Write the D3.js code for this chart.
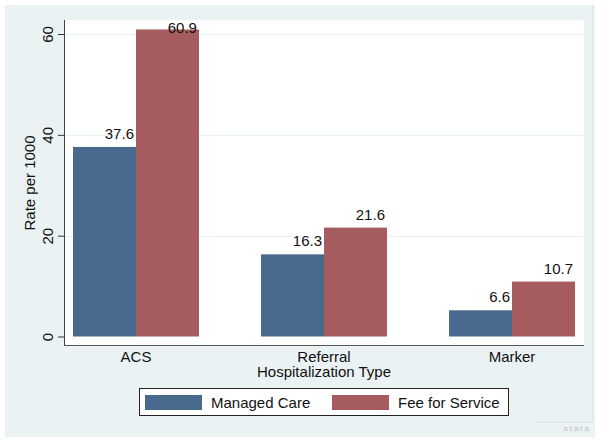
<!DOCTYPE html>
<html><head><meta charset="utf-8">
<script src="https://cdn.jsdelivr.net/npm/d3@7"></script>
<style>body{margin:0;background:#fff}svg{display:block}text{font-family:"Liberation Sans",Arial,sans-serif}</style>
</head><body>
<script>
const categories = ["ACS", "Referral", "Marker"];
const seriesNames = ["Managed Care", "Fee for Service"];
const managedCare = [37.6, 16.3, 5.2];
const feeForService = [60.9, 21.6, 10.9];
const managedCareLabels = ["37.6", "16.3", "6.6"];
const feeForServiceLabels = ["60.9", "21.6", "10.7"];
const yTicks = [0, 20, 40, 60];
const xTitle = "Hospitalization Type";
const yTitle = "Rate per 1000";
const colors = ["#486a8c", "#a65c5f"];

const W = 604, H = 442;
const svg = d3.select("body").append("svg").attr("width", W).attr("height", H);
const bg = "#eaf2f3";
svg.append("rect").attr("x", 5).attr("y", 5).attr("width", 590).attr("height", 432).attr("fill", bg);
svg.append("line").attr("x1", 592.5).attr("x2", 592.5).attr("y1", 5).attr("y2", 422).attr("stroke", "#dbe4e7");
svg.append("line").attr("x1", 535).attr("x2", 592.5).attr("y1", 422.5).attr("y2", 422.5).attr("stroke", "#dbe4e7");

const plot = {left: 64, right: 584, top: 20, bottom: 345};
svg.append("rect").attr("x", plot.left).attr("y", plot.top).attr("width", plot.right - plot.left)
  .attr("height", plot.bottom - plot.top).attr("fill", "#fff");

const y = d3.scaleLinear().domain([0, 60]).range([336.5, 34]);
const x0 = d3.scaleBand().domain(categories).range([73, 575]).paddingInner(0.33).paddingOuter(0);
const x1 = d3.scaleBand().domain(seriesNames).range([0, x0.bandwidth()]);

// gridlines
svg.append("g").selectAll("line").data(yTicks.filter(d => d > 0)).join("line")
  .attr("x1", plot.left).attr("x2", plot.right)
  .attr("y1", d => Math.round(y(d)) + 0.5).attr("y2", d => Math.round(y(d)) + 0.5)
  .attr("stroke", bg).attr("stroke-width", 1.2);

const series = [
  {name: seriesNames[0], values: managedCare, labels: managedCareLabels, color: colors[0]},
  {name: seriesNames[1], values: feeForService, labels: feeForServiceLabels, color: colors[1]}
];
const rows = [];
series.forEach(s => categories.forEach((c, i) => rows.push({cat: c, s: s.name, v: s.values[i], lab: s.labels[i], color: s.color})));

svg.append("g").selectAll("rect").data(rows).join("rect")
  .attr("x", d => x0(d.cat) + x1(d.s)).attr("width", x1.bandwidth())
  .attr("y", d => y(d.v)).attr("height", d => y(0) - y(d.v)).attr("fill", d => d.color);

svg.append("g").selectAll("text").data(rows).join("text")
  .attr("x", d => x0(d.cat) + x1(d.s) + x1.bandwidth() - 2)
  .attr("y", d => Math.max(y(d.v) - 8, plot.top + 13))
  .attr("text-anchor", "end").attr("font-size", 15).attr("fill", "#111").text(d => d.lab);

// y axis
const yAxis = svg.append("g").attr("transform", `translate(${plot.left},0)`)
  .call(d3.axisLeft(y).tickValues(yTicks).tickSize(6).tickPadding(4));
yAxis.select(".domain").remove();
yAxis.selectAll("line").attr("stroke", "#333");
yAxis.selectAll("text").attr("font-size", 15).attr("fill", "#111")
  .attr("x", null).attr("dy", null)
  .attr("transform", "translate(-11,0) rotate(-90)").attr("text-anchor", "middle");
svg.append("line").attr("x1", plot.left + 0.5).attr("x2", plot.left + 0.5).attr("y1", plot.top).attr("y2", plot.bottom + 1)
  .attr("stroke", "#444");
svg.append("line").attr("x1", plot.left).attr("x2", plot.right).attr("y1", plot.bottom + 0.5).attr("y2", plot.bottom + 0.5)
  .attr("stroke", "#555");

// x axis labels
const xAxis = svg.append("g").attr("transform", `translate(0,${plot.bottom})`)
  .call(d3.axisBottom(x0).tickSize(0).tickPadding(6));
xAxis.select(".domain").remove();
xAxis.selectAll("text").attr("font-size", 15).attr("fill", "#111").attr("dy", "0.71em");

svg.append("text").attr("x", x0("Referral") + x0.bandwidth() / 2).attr("y", 377)
  .attr("text-anchor", "middle").attr("font-size", 15).attr("fill", "#111").text(xTitle);
svg.append("text").attr("transform", `translate(35,183) rotate(-90)`)
  .attr("text-anchor", "middle").attr("font-size", 15).attr("fill", "#111").text(yTitle);

// legend
const lg = svg.append("g");
lg.append("rect").attr("x", 139.5).attr("y", 388.5).attr("width", 369).attr("height", 27)
  .attr("fill", "#fff").attr("stroke", "#222");
const legX = [145, 332];
series.forEach((s, i) => {
  lg.append("rect").attr("x", legX[i]).attr("y", 395).attr("width", 57).attr("height", 15).attr("fill", s.color);
  lg.append("text").attr("x", legX[i] + 66).attr("y", 407.5).attr("font-size", 15).attr("fill", "#111").text(s.name);
});

// stata logo text
svg.append("text").attr("x", 591).attr("y", 431).attr("text-anchor", "end").attr("font-size", 8)
  .attr("letter-spacing", 2).attr("fill", "#b8c0c4").text("stata");
</script>
</body></html>
